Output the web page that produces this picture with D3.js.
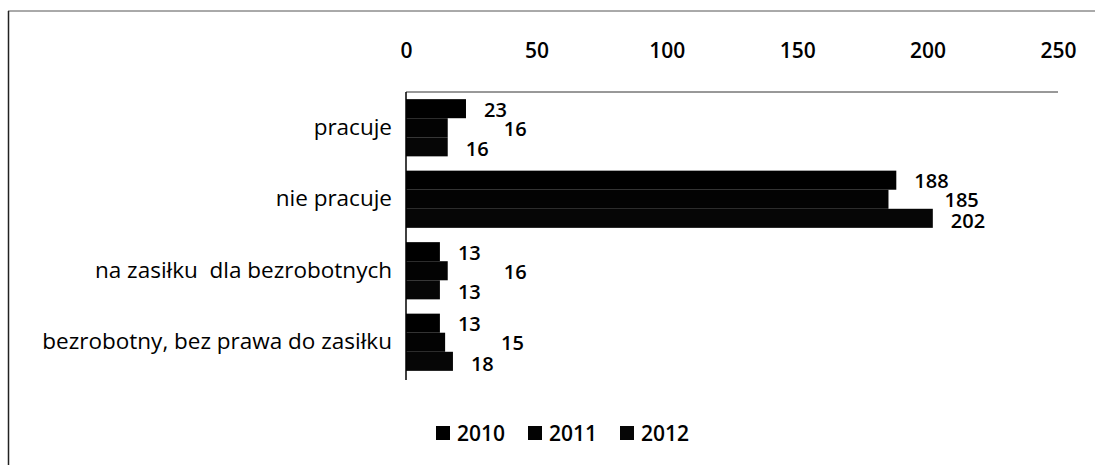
<!DOCTYPE html>
<html>
<head>
<meta charset="utf-8">
<script src="https://cdn.jsdelivr.net/npm/d3@7/dist/d3.min.js"></script>
<style>
  html, body { margin: 0; padding: 0; background: #fff; }
  svg { display: block; }
  text { font-family: "Open Sans", Lato, sans-serif; fill: #000; white-space: pre; }
</style>
</head>
<body>
<svg id="chart" width="1095" height="465"></svg>
<script>
const categories = ["pracuje", "nie pracuje", "na zasiłku  dla bezrobotnych", "bezrobotny, bez prawa do zasiłku"];
const seriesNames = ["2010", "2011", "2012"];
const values2010 = [23, 188, 13, 13];
const values2011 = [16, 185, 16, 15];
const values2012 = [16, 202, 13, 18];
const tickValues = [0, 50, 100, 150, 200, 250];

const seriesValues = [values2010, values2011, values2012];
const seriesColors = ["#000", "#030303", "#060606"];
const labelOffsets = [18, 56, 18];
const labelDy = [1, 1, 2];

const svg = d3.select("#chart");

// outer frame
svg.append("line").attr("x1", 8).attr("x2", 1095).attr("y1", 11).attr("y2", 11)
  .attr("stroke", "#555").attr("stroke-width", 1);
svg.append("line").attr("x1", 8.5).attr("x2", 8.5).attr("y1", 11).attr("y2", 465)
  .attr("stroke", "#222").attr("stroke-width", 1.5);

const plot = { left: 406, right: 1058, top: 92, bottom: 378 };

const x = d3.scaleLinear().domain([0, 250]).range([plot.left, plot.right]);
const y = d3.scaleBand().domain(categories).range([plot.top, plot.bottom])
  .paddingInner(0.2).paddingOuter(0.1);
const ySub = d3.scaleBand().domain(seriesNames).range([0, y.bandwidth()]);

// top axis labels
const xAxis = d3.axisTop(x).tickValues(tickValues).tickSize(0).tickPadding(0);
const gx = svg.append("g").attr("transform", `translate(0, 50)`).call(xAxis);
gx.select(".domain").remove();
gx.selectAll("text").style("font-size", "21px").style("font-weight", "600")
  .style("font-family", "'Open Sans', sans-serif")
  .attr("fill", "#000").attr("dy", "0.36em").attr("y", 0);

// plot top border
svg.append("line").attr("x1", plot.left).attr("x2", plot.right)
  .attr("y1", plot.top).attr("y2", plot.top).attr("stroke", "#333").attr("stroke-width", 1);

// bars
seriesNames.forEach((s, si) => {
  svg.append("g").selectAll("rect").data(categories).join("rect")
    .attr("x", x(0))
    .attr("y", c => y(c) + ySub(s))
    .attr("width", (c, i) => x(seriesValues[si][i]) - x(0))
    .attr("height", ySub.bandwidth())
    .attr("fill", seriesColors[si]);
});

// data labels
seriesNames.forEach((s, si) => {
  svg.append("g").selectAll("text").data(categories).join("text")
    .attr("x", (c, i) => x(seriesValues[si][i]) + labelOffsets[si])
    .attr("y", c => y(c) + ySub(s) + ySub.bandwidth() / 2 + labelDy[si])
    .attr("dy", "0.36em")
    .style("font-size", "20px")
    .style("font-weight", "600")
    .text((c, i) => seriesValues[si][i]);
});

// left axis
const yAxis = d3.axisLeft(y).tickSize(0).tickPadding(14);
const gy = svg.append("g").attr("transform", `translate(${plot.left},0)`).call(yAxis);
gy.select(".domain").attr("stroke", "#000").attr("stroke-width", 1.5)
  .attr("d", `M0,${plot.top}V${plot.bottom + 2}`);
gy.selectAll("text").style("font-size", "22.5px")
  .style("font-family", "'Open Sans', sans-serif")
  .style("white-space", "pre")
  .attr("fill", "#000");

// legend
const legendX = [436, 528, 620];
const legend = svg.append("g");
seriesNames.forEach((s, si) => {
  const g = legend.append("g").attr("transform", `translate(${legendX[si]}, 433)`);
  g.append("rect").attr("x", 0).attr("y", -7).attr("width", 14).attr("height", 14)
    .attr("fill", seriesColors[si]);
  g.append("text").attr("x", 21).attr("y", 0).attr("dy", "0.36em")
    .style("font-size", "21px").style("font-weight", "600").text(s);
});
</script>
</body>
</html>
